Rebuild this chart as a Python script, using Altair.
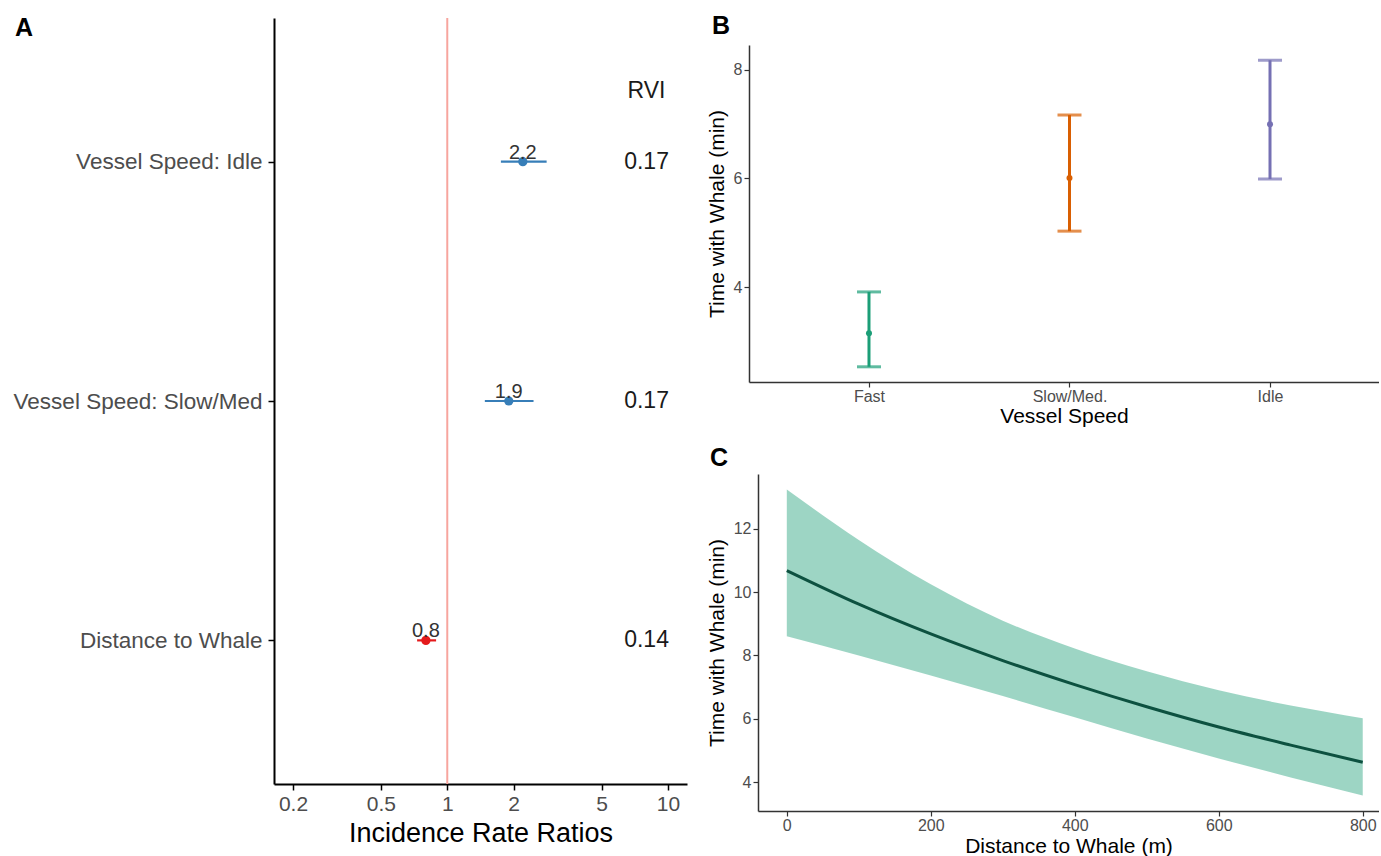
import altair as alt
import pandas as pd

FONT = "Liberation Sans, Arial, Helvetica, sans-serif"
GREY = "#4D4D4D"

# ---- Panel A: incidence rate ratios with relative variable importance ----
terms = ["Vessel Speed: Idle", "Vessel Speed: Slow/Med", "Distance to Whale"]
irr = [2.2, 1.9, 0.8]
irr_low = [1.75, 1.48, 0.73]
irr_high = [2.82, 2.46, 0.89]
rvi = ["0.17", "0.17", "0.14"]
irr_colors = ["#377EB8", "#377EB8", "#E41A1C"]
irr_ticks = [0.2, 0.5, 1, 2, 5, 10]

# ---- Panel B: time with whale by vessel speed ----
speeds = ["Fast", "Slow/Med.", "Idle"]
speed_mean = [3.15, 6.01, 7.0]
speed_low = [2.53, 5.03, 5.99]
speed_high = [3.91, 7.17, 8.18]
speed_colors = ["#1B9E77", "#D95F02", "#7570B3"]

# ---- Panel C: time with whale vs distance ----
distance = [0, 100, 200, 300, 400, 500, 600, 700, 800]
fit = [10.68, 9.62, 8.68, 7.84, 7.08, 6.38, 5.74, 5.17, 4.63]
fit_low = [8.61, 8.0, 7.37, 6.72, 6.05, 5.38, 4.75, 4.15, 3.58]
fit_high = [13.24, 11.65, 10.25, 9.1, 8.22, 7.5, 6.9, 6.42, 6.02]

NO_FRAME = alt.ViewBackground(stroke=None, fill=None)


def letter(tag, dx, dy):
    return alt.Chart(pd.DataFrame({"panel": [tag]})).mark_text(
        fontSize=25, fontWeight="bold", font=FONT, color="black",
        align="center", baseline="middle",
    ).encode(text="panel:N", x=alt.value(dx), y=alt.value(dy))


def spacer():
    # blank cell used to offset panels inside the flush layout
    return alt.Chart(pd.DataFrame({"s": [" "]})).mark_text(fontSize=1).encode(
        text="s:N", x=alt.value(0), y=alt.value(0)
    ).properties(width=1, height=1, view=NO_FRAME)


# ---------------- Panel A ----------------
dfA = pd.DataFrame({
    "term": terms, "irr": irr, "low": irr_low, "high": irr_high,
    "rvi": rvi, "color": irr_colors,
})
dfA["label"] = dfA["irr"].map(lambda v: f"{v:.1f}")

xA = alt.X(
    "irr:Q",
    scale=alt.Scale(type="log", domain=[0.164, 12.2], nice=False),
    axis=alt.Axis(
        values=irr_ticks, title="Incidence Rate Ratios", grid=False,
        domainColor="black", domainWidth=2, tickColor="black", tickWidth=1.5,
        tickSize=6, labelFontSize=21, labelColor=GREY, labelPadding=3,
        titleFontSize=27, titleColor="black", titleFontWeight="normal",
        titlePadding=6, labelFont=FONT, titleFont=FONT, labelFlush=False,
    ),
)
yA = alt.Y(
    "term:N", sort=terms,
    scale=alt.Scale(type="point", padding=0.6),
    axis=alt.Axis(
        title=None, domainColor="black", domainWidth=2, tickColor="black",
        tickWidth=1.5, tickSize=6, labelFontSize=22.5, labelColor=GREY,
        labelPadding=6, labelLimit=500, labelFont=FONT,
    ),
)
colA = alt.Color("color:N", scale=None)

ref_line = alt.Chart(pd.DataFrame({"irr": [1]})).mark_rule(
    color="#F7A59E", strokeWidth=2
).encode(x="irr:Q")

whiskers = alt.Chart(dfA).mark_rule(strokeWidth=2.2).encode(
    x=xA, x2="high:Q", y=yA, color=colA
).transform_calculate(irr="datum.low")

dots = alt.Chart(dfA).mark_circle(size=85, opacity=1).encode(x=xA, y=yA, color=colA)

value_labels = alt.Chart(dfA).mark_text(
    fontSize=20, font=FONT, color="#333333", baseline="alphabetic", dy=-3
).encode(x=xA, y=yA, text="label:N")

rvi_values = alt.Chart(dfA).transform_calculate(irr="8").mark_text(
    fontSize=23, font=FONT, color="#1A1A1A", baseline="middle"
).encode(x=xA, y=yA, text="rvi:N")

rvi_head = alt.Chart(pd.DataFrame({"term": [terms[0]], "head": ["RVI"]})).transform_calculate(
    irr="8"
).mark_text(fontSize=23, font=FONT, color="#1A1A1A", baseline="middle", dy=-71).encode(
    x=xA, y=yA, text="head:N"
)

chartA = alt.layer(
    ref_line, whiskers, dots, value_labels, rvi_values, rvi_head,
    letter("A", -250, 10),
).properties(width=413, height=766, view=NO_FRAME)

# ---------------- Panel B ----------------
dfB = pd.DataFrame({"speed": speeds, "mean": speed_mean, "low": speed_low, "high": speed_high})

axis_common = dict(
    grid=False, domainColor="#333333", domainWidth=1.5, tickColor="#333333",
    tickWidth=1.2, tickSize=5, labelFontSize=16, labelColor=GREY,
    titleFontSize=21, titleColor="black", titleFontWeight="normal",
    labelFont=FONT, titleFont=FONT,
)

xB = alt.X(
    "speed:N", sort=speeds,
    scale=alt.Scale(type="point", padding=0.571, align=0.524),
    axis=alt.Axis(title="Vessel Speed", labelAngle=0, labelPadding=1, titlePadding=1, **axis_common),
)
yB_scale = alt.Scale(domain=[2.25, 8.46], nice=False, zero=False)
yB_axis = alt.Axis(values=[4, 6, 8], title="Time with Whale (min)", labelPadding=2,
                   titlePadding=6, **axis_common)
colB = alt.Color("speed:N", scale=alt.Scale(domain=speeds, range=speed_colors), legend=None)

baseB = alt.Chart(dfB)
barsB = baseB.mark_rule(strokeWidth=3).encode(
    x=xB, y=alt.Y("low:Q", scale=yB_scale, axis=yB_axis), y2="high:Q", color=colB
)
cap_low = baseB.mark_tick(orient="horizontal", size=24, thickness=3).encode(
    x=xB, y=alt.Y("low:Q", scale=yB_scale, axis=yB_axis), color=colB
)
cap_high = baseB.mark_tick(orient="horizontal", size=24, thickness=3).encode(
    x=xB, y=alt.Y("high:Q", scale=yB_scale, axis=yB_axis), color=colB
)
pts_B = baseB.mark_circle(size=36, opacity=1).encode(
    x=xB, y=alt.Y("mean:Q", scale=yB_scale, axis=yB_axis), color=colB
)

chartB = alt.layer(barsB, cap_low, cap_high, pts_B, letter("B", -28, -19)).properties(
    width=630, height=337, view=NO_FRAME
)

# ---------------- Panel C ----------------
dfC = pd.DataFrame({"dist": distance, "fit": fit, "low": fit_low, "high": fit_high})
xC = alt.X(
    "dist:Q", scale=alt.Scale(domain=[-40, 822.6], nice=False),
    axis=alt.Axis(values=[0, 200, 400, 600, 800], title="Distance to Whale (m)",
                  labelPadding=1, titleBaseline="alphabetic", titleY=41,
                  labelFlush=False, **axis_common),
)
yC_scale = alt.Scale(domain=[3.09, 13.73], nice=False, zero=False)
yC_axis = alt.Axis(values=[4, 6, 8, 10, 12], title="Time with Whale (min)", labelPadding=2,
                   titlePadding=6, **axis_common)

band = alt.Chart(dfC).mark_area(color="#1B9E77", opacity=0.43, interpolate="monotone").encode(
    x=xC, y=alt.Y("low:Q", scale=yC_scale, axis=yC_axis), y2="high:Q"
)
line = alt.Chart(dfC).mark_line(color="#0D5140", strokeWidth=3, interpolate="monotone").encode(
    x=xC, y=alt.Y("fit:Q", scale=yC_scale, axis=yC_axis)
)

chartC = alt.layer(band, line, letter("C", -39, -16)).properties(
    width=621, height=337, view=NO_FRAME
)

# ---------------- layout ----------------
top_right = alt.vconcat(spacer(), chartB, spacing=26, bounds="flush")
bottom_right = alt.hconcat(spacer(), chartC, spacing=8, bounds="flush")
right = alt.vconcat(top_right, bottom_right, spacing=20)

chart = alt.hconcat(chartA, right, spacing=62, bounds="flush").properties(
    padding={"left": 13, "top": 14, "right": 0, "bottom": 0}
).configure_view(stroke=None).configure(font=FONT)

chart.save("out.html", embed_options={"renderer": "svg", "actions": False})
